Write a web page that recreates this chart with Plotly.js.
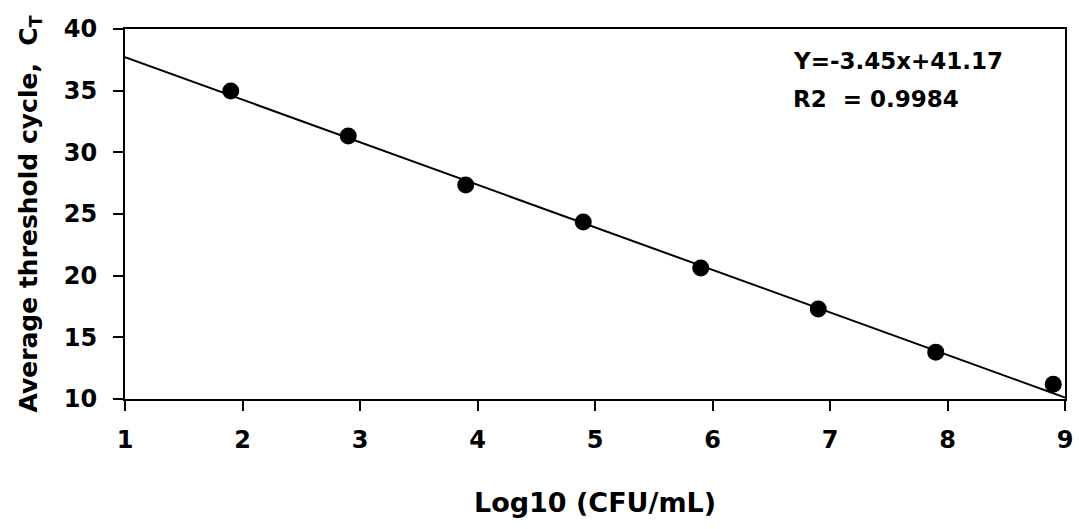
<!DOCTYPE html>
<html>
<head>
<meta charset="utf-8">
<script src="https://cdn.plot.ly/plotly-3.0.1.min.js"></script>
<style>html,body{margin:0;padding:0;background:#fff;}#chart{width:1079px;height:529px;}</style>
</head>
<body>
<div id="chart"></div>
<script>
const logCFU = [1.9, 2.9, 3.9, 4.9, 5.9, 6.9, 7.9, 8.9];
const avgCT = [34.97, 31.32, 27.35, 24.35, 20.62, 17.29, 13.8, 11.2];
const fitX = [1, 9];
const fitY = [37.72, 10.12];
const xTicks = [1, 2, 3, 4, 5, 6, 7, 8, 9];
const yTicks = [10, 15, 20, 25, 30, 35, 40];
const eqText = "Y=-3.45x+41.17";
const r2Text = "R2  = 0.9984";

const FONT = 'DejaVu Sans, sans-serif';
const data = [
  {x: fitX, y: fitY, mode: 'lines', type: 'scatter', line: {color: '#000', width: 2}, hoverinfo: 'skip'},
  {x: logCFU, y: avgCT, mode: 'markers', type: 'scatter', marker: {color: '#000', size: 17}}
];
const axisFont = {family: FONT, size: 24, color: '#000', weight: 'bold'};
const layout = {
  width: 1079, height: 529,
  margin: {l: 125, r: 14, t: 29, b: 130},
  showlegend: false,
  paper_bgcolor: '#fff', plot_bgcolor: '#fff',
  xaxis: {
    range: [1, 9], tickvals: xTicks, ticktext: xTicks.map(String),
    showgrid: false, zeroline: false, showline: true, linecolor: '#000', linewidth: 2, mirror: true,
    ticks: 'outside', ticklen: 10, tickwidth: 2, tickcolor: '#000',
    tickfont: axisFont, ticklabelstandoff: 8,
    title: {text: 'Log10 (CFU/mL)', font: {family: FONT, size: 27, color: '#000', weight: 'bold'}, standoff: 40}
  },
  yaxis: {
    range: [10, 40], tickvals: yTicks, ticktext: yTicks.map(String),
    showgrid: false, zeroline: false, showline: true, linecolor: '#000', linewidth: 2, mirror: true,
    ticks: 'outside', ticklen: 10, tickwidth: 2, tickcolor: '#000',
    tickfont: axisFont, ticklabelstandoff: 11,
    title: {text: 'Average threshold cycle,  C<sub>T</sub>', font: {family: FONT, size: 25, color: '#000', weight: 'bold'}, standoff: 19}
  },
  annotations: [
    {xref: 'paper', yref: 'paper', x: 0.7085, y: 0.914, xanchor: 'left', yanchor: 'middle', showarrow: false,
     text: eqText, font: {family: FONT, size: 23, color: '#000', weight: 'bold'}},
    {xref: 'paper', yref: 'paper', x: 0.7085, y: 0.812, xanchor: 'left', yanchor: 'middle', showarrow: false,
     text: r2Text, font: {family: FONT, size: 23, color: '#000', weight: 'bold'}}
  ]
};
Plotly.newPlot('chart', data, layout, {displayModeBar: false, staticPlot: true});
</script>
</body>
</html>
